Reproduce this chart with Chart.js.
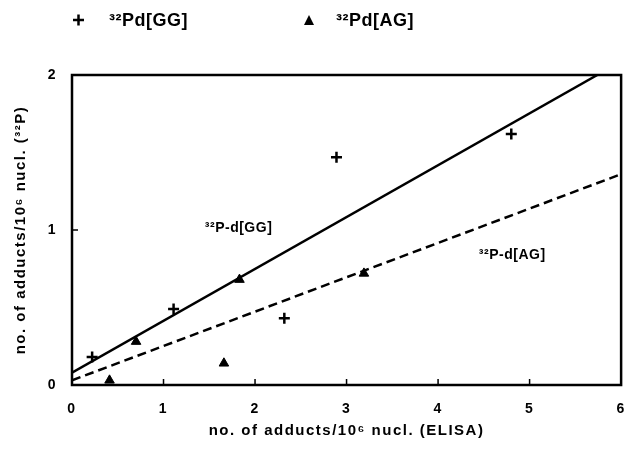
<!DOCTYPE html>
<html>
<head>
<meta charset="utf-8">
<script src="https://cdn.jsdelivr.net/npm/chart.js@4.4.1/dist/chart.umd.min.js"></script>
<style>
  html, body { margin: 0; padding: 0; background: #fff; }
  #wrap { width: 633px; height: 460px; position: relative; }
</style>
</head>
<body>
<div id="wrap"><canvas id="chart_adducts"></canvas></div>
<script>
var ggX = [0.22, 1.11, 2.32, 2.89, 4.80];
var ggY = [0.18, 0.49, 0.43, 1.47, 1.62];
var agX = [0.41, 0.70, 1.66, 1.83, 3.19];
var agY = [0.03, 0.28, 0.14, 0.68, 0.72];
// regression lines, end points
var ggLineX = [0, 5.74];
var ggLineY = [0.08, 2];
var agLineX = [0, 6];
var agLineY = [0.03, 1.36];
var xTicks = [0, 1, 2, 3, 4, 5, 6];
var yTicks = [0, 1, 2];

function pts(xs, ys) {
    return xs.map(function(x, i) { return { x: x, y: ys[i] }; });
}

var FONT = '"Liberation Sans", Arial, sans-serif';

var chart_adducts = new Chart(document.getElementById('chart_adducts'), {
    type: 'scatter',
    data: {
        datasets: [
            {
                label: '³²Pd[GG]',
                data: pts(ggX, ggY),
                pointStyle: 'cross',
                pointRadius: 5.5,
                borderWidth: 2.5,
                borderColor: '#000',
                backgroundColor: '#000'
            },
            {
                label: '³²Pd[AG]',
                data: pts(agX, agY),
                pointStyle: 'triangle',
                pointRadius: 5.5,
                borderWidth: 1,
                borderColor: '#000',
                backgroundColor: '#000'
            },
            {
                label: '³²P-d[GG]',
                type: 'line',
                data: pts(ggLineX, ggLineY),
                pointRadius: 0,
                borderWidth: 2.5,
                borderColor: '#000',
                fill: false
            },
            {
                label: '³²P-d[AG]',
                type: 'line',
                data: pts(agLineX, agLineY),
                pointRadius: 0,
                borderWidth: 2.5,
                borderDash: [9, 5],
                borderColor: '#000',
                fill: false
            }
        ]
    },
    options: {
        animation: false,
        responsive: true,
        maintainAspectRatio: false,
        layout: { padding: { top: 75, right: 6, left: 0, bottom: 0 } },
        plugins: {
            legend: { display: false },
            tooltip: { enabled: false }
        },
        scales: {
            x: {
                type: 'linear',
                min: 0,
                max: 6,
                afterFit: function(s) { s.height = 75; },
                afterBuildTicks: function(s) { s.ticks = xTicks.map(function(v) { return { value: v }; }); },
                grid: { display: false },
                border: { display: false },
                ticks: { color: '#000', padding: 8, font: { family: FONT, size: 14, weight: 'bold' } },
                title: {
                    display: true,
                    text: 'no. of adducts/10⁶ nucl. (ELISA)',
                    color: '#000',
                    padding: { top: 0, bottom: 20 },
                    font: { family: FONT, size: 15, weight: 'bold' }
                }
            },
            y: {
                type: 'linear',
                min: 0,
                max: 2,
                afterFit: function(s) { s.width = 72; },
                afterBuildTicks: function(s) { s.ticks = yTicks.map(function(v) { return { value: v }; }); },
                grid: { display: false },
                border: { display: false },
                ticks: { color: '#000', padding: 7, font: { family: FONT, size: 14, weight: 'bold' } },
                title: {
                    display: true,
                    text: 'no. of adducts/10⁶ nucl. (³²P)',
                    color: '#000',
                    padding: { top: 12, bottom: 0 },
                    font: { family: FONT, size: 15, weight: 'bold' }
                }
            }
        }
    },
    plugins: [{
        id: 'frameAndLabels',
        beforeDraw: function(chart) {
            var ctx = chart.ctx;
            ctx.save();
            ctx.fillStyle = 'white';
            ctx.fillRect(0, 0, chart.width, chart.height);
            ctx.restore();
            // the scanned figure has wide letter spacing
            ctx.letterSpacing = '1.5px';
        },
        afterDraw: function(chart) {
            var ctx = chart.ctx, a = chart.chartArea;
            var xs = chart.scales.x, ys = chart.scales.y;
            ctx.save();
            ctx.strokeStyle = '#000';
            ctx.lineWidth = 2.5;
            ctx.strokeRect(a.left, a.top, a.right - a.left, a.bottom - a.top);
            // inward ticks
            ctx.lineWidth = 1.5;
            ctx.beginPath();
            xTicks.slice(1, -1).forEach(function(v) {
                var px = xs.getPixelForValue(v);
                ctx.moveTo(px, a.bottom); ctx.lineTo(px, a.bottom - 6);
            });
            yTicks.slice(1, -1).forEach(function(v) {
                var py = ys.getPixelForValue(v);
                ctx.moveTo(a.left, py); ctx.lineTo(a.left + 6, py);
            });
            ctx.stroke();

            // line labels
            ctx.fillStyle = '#000';
            ctx.textBaseline = 'middle';
            ctx.textAlign = 'center';
            ctx.letterSpacing = '0.5px';
            ctx.font = 'bold 14px ' + FONT;
            ctx.fillText(chart.data.datasets[2].label, xs.getPixelForValue(1.82), ys.getPixelForValue(1.01));
            ctx.fillText(chart.data.datasets[3].label, xs.getPixelForValue(4.81), ys.getPixelForValue(0.84));

            // legend
            ctx.textAlign = 'left';
            ctx.letterSpacing = '0.5px';
            ctx.font = 'bold 18px ' + FONT;
            ctx.lineWidth = 2.5;
            ctx.beginPath();
            ctx.moveTo(73, 20); ctx.lineTo(84, 20);
            ctx.moveTo(78.5, 14.5); ctx.lineTo(78.5, 25.5);
            ctx.stroke();
            ctx.fillText(chart.data.datasets[0].label, 109, 21);
            ctx.beginPath();
            ctx.moveTo(309, 15); ctx.lineTo(314, 25); ctx.lineTo(304, 25); ctx.closePath();
            ctx.fill();
            ctx.fillText(chart.data.datasets[1].label, 336, 21);
            ctx.restore();
        }
    }]
});
</script>
</body>
</html>
